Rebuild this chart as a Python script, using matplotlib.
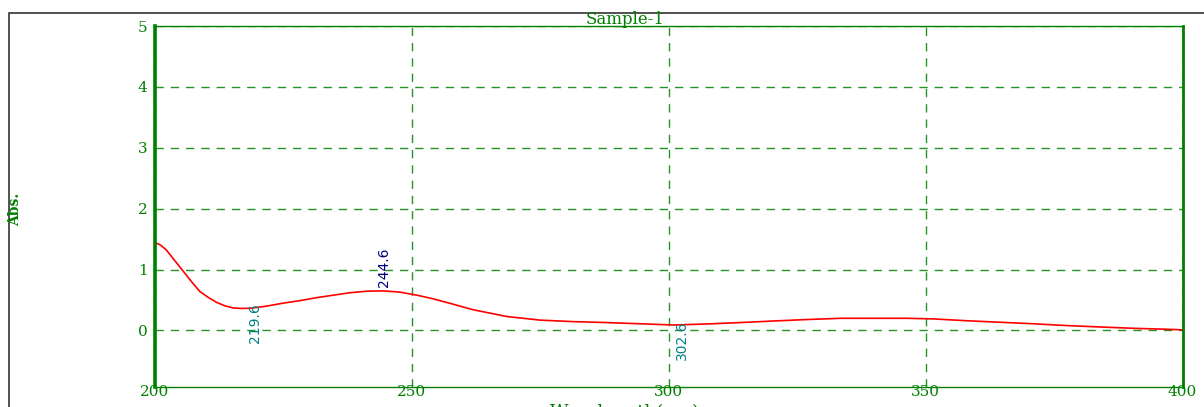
import numpy as np
import matplotlib
matplotlib.use("Agg")
import matplotlib.pyplot as plt
from matplotlib.patches import Rectangle

# ---- data ----
wavelength = [200.0, 201.2, 202.3, 203.9, 205.6, 207.2, 208.8, 210.5, 212.1, 213.7,
              215.3, 216.9, 218.6, 221.8, 225.1, 228.3,
              231.6, 234.8, 238.0, 241.3, 244.5, 247.7, 251.0, 254.2, 257.5, 262.0,
              268.5, 275.0, 281.5, 288.0, 294.5, 301.0, 307.5, 314.0, 320.5, 327.0,
              333.5, 340.0, 346.5, 351.5, 358.0, 364.5, 371.0, 377.6, 384.1, 390.6,
              397.1, 400.0]
absorbance = [1.45, 1.40, 1.32, 1.15, 0.97, 0.80, 0.64, 0.54, 0.46, 0.405,
              0.37, 0.362, 0.365, 0.40, 0.45, 0.49,
              0.54, 0.58, 0.62, 0.645, 0.65, 0.63, 0.58, 0.52, 0.445, 0.34,
              0.23, 0.17, 0.145, 0.13, 0.11, 0.09, 0.107, 0.13, 0.156, 0.18,
              0.20, 0.20, 0.20, 0.19, 0.16, 0.135, 0.11, 0.08, 0.057, 0.035,
              0.02, 0.01]

peak_wl = [219.6, 244.6, 302.6]
peak_labels = ["219.6", "244.6", "302.6"]
peak_kind = ["valley", "peak", "valley"]

x_ticks = [200, 250, 300, 350, 400]
y_ticks = [0, 1, 2, 3, 4, 5]

GREEN = "#008000"
SERIF = "DejaVu Serif"
W, H = 1204, 407
fig = plt.figure(figsize=(W / 100, H / 100), dpi=100)

# outer frame
fig.patches.append(Rectangle((9 / W, -0.1), 1.2, (H - 13) / H + 0.1,
                             transform=fig.transFigure, fill=False,
                             edgecolor="#333333", linewidth=1.2))

ax = fig.add_axes([154.6 / W, 20.5 / H, 1027.9 / W, 360.5 / H])
ax.set_xlim(200, 400)
ax.set_ylim(-0.92, 5)

ax.plot(wavelength, absorbance, color="red", linewidth=1.2)

for s in ["left", "right", "top", "bottom"]:
    ax.spines[s].set_color(GREEN)
ax.spines["left"].set_linewidth(2.6)
ax.spines["right"].set_linewidth(2.0)
ax.spines["top"].set_linewidth(1.0)
ax.spines["bottom"].set_linewidth(1.0)

ax.set_xticks(x_ticks)
ax.set_yticks(y_ticks)
ax.set_xticklabels([str(v) for v in x_ticks])
ax.set_yticklabels([str(v) for v in y_ticks])
ax.tick_params(axis="both", length=0, colors=GREEN, labelsize=11)
ax.tick_params(axis="x", pad=-1)
ax.tick_params(axis="y", pad=5)
for lab in ax.get_xticklabels() + ax.get_yticklabels():
    lab.set_fontfamily(SERIF)
    lab.set_color(GREEN)

ax.grid(True, color=GREEN, linestyle=(0, (6, 5)), linewidth=1.0, alpha=0.85)

# peak / valley annotations
for wl, lab, kind in zip(peak_wl, peak_labels, peak_kind):
    yv = float(np.interp(wl, wavelength, absorbance))
    if kind == "peak":
        ax.text(wl, yv + 0.06, lab, rotation=90, ha="center", va="bottom",
                fontsize=10, color="#000080", family="DejaVu Sans")
    else:
        ax.text(wl, yv + 0.07, lab, rotation=90, ha="center", va="top",
                fontsize=10, color="#008080", family="DejaVu Sans")

fig.text(625 / W, 1 - 19 / H, "Sample-1", ha="center", va="center",
         color=GREEN, fontsize=12, family=SERIF)
fig.text(15 / W, 1 - 209 / H, "Abs.", rotation=90, ha="center", va="center",
         color=GREEN, fontsize=10, family=SERIF, fontweight="bold")
fig.text(625 / W, 1 - 403.5 / H, "Wavelength(nm)", ha="center", va="top",
         color=GREEN, fontsize=13, family=SERIF)

fig.savefig("out.png", dpi=100)
